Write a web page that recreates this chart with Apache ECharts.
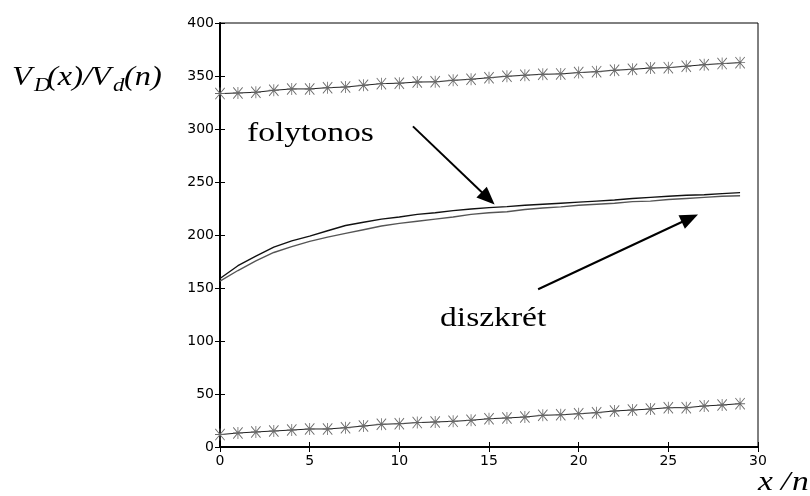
<!DOCTYPE html>
<html style="height: 100%">
<head>
	<meta charset="utf-8">
</head>
<body style="height: 100%; margin: 0; background-color: #fff;">
<div id="container" style="width: 810px; height: 496px"></div>
<script type="text/javascript" src="https://cdn.jsdelivr.net/npm/echarts@6/dist/echarts.min.js"></script>
<script type="text/javascript">
	// x / n values
	var xs = [0, 1, 2, 3, 4, 5, 6, 7, 8, 9, 10, 11, 12, 13, 14, 15, 16, 17, 18, 19, 20, 21, 22, 23, 24, 25, 26, 27, 28, 29];
	// upper bound (starred)
	var upper = [333.4, 334, 334.6, 336.5, 337.8, 337.8, 339, 339.6, 341.2, 342.8, 343.2, 344.3, 344.5, 345.9, 346.9, 348.4, 349.7, 350.7, 351.6, 352, 353.2, 354.1, 355.4, 356.3, 357.5, 357.9, 359.2, 360.7, 361.7, 362.6];
	// lower bound (starred)
	var lower = [11.7, 13.2, 14.2, 15.1, 16, 17, 17, 18.2, 19.8, 21.4, 22, 23, 23.6, 24.2, 25.2, 26.7, 27.4, 28.3, 29.9, 30.4, 31.4, 32.4, 34, 34.9, 35.8, 37.1, 37.1, 38.7, 39.6, 40.9];
	// folytonos
	var cont = [159, 171, 180, 188.5, 194.5, 199, 204, 209, 212, 215, 217, 219.5, 221, 223, 224.5, 225.8, 226.8, 228, 229, 230, 231, 232, 233, 234.5, 235.5, 236.5, 237.5, 238, 239, 240];
	// diszkrét
	var disc = [156.5, 166.5, 175.5, 183.5, 189, 194, 198, 201.5, 205, 208.5, 211, 213, 215, 217, 219.5, 221, 222, 224, 225.5, 226.5, 228, 229, 230, 231.5, 232, 233.5, 234.5, 235.5, 236.5, 237];
	// arrows [from, to] in data units
	var arrow1 = [[10.76, 302.5], [14.95, 234.6]];
	var arrow2 = [[17.74, 148.8], [26.2, 215.8]];

	function pairs(ys) {
		return xs.map(function (x, i) { return [x, ys[i]]; });
	}

	var star = 'path://M4.6 0h0.8v10h-0.8z M0 4.6h10v0.8h-10z M0.6 0L10 9.4L9.4 10L0 0.6z M9.4 0L10 0.6L0.6 10L0 9.4z';
	var font = 'DejaVu Sans';
	var serif = 'Liberation Serif';

	function tick() {
		return { show: true, inside: true, length: 5, lineStyle: { color: '#000' } };
	}

	function serifText(x, y, text, size, italic) {
		return {
			type: 'text', x: x, y: y, scaleX: 1.2,
			style: {
				text: text, fontFamily: serif, fontSize: size,
				fontStyle: italic ? 'italic' : 'normal', fill: '#000'
			}
		};
	}

	var myChart = echarts.init(document.getElementById('container'));
	var option = {
		animation: false,
		grid: {
			left: 220, right: 52, top: 23, bottom: 49,
			show: true, borderColor: '#000', borderWidth: 1
		},
		xAxis: [{
			type: 'value', min: 0, max: 30, interval: 5,
			axisLine: { lineStyle: { color: '#000', width: 2 } },
			axisTick: tick(),
			axisLabel: { color: '#000', fontSize: 14, fontFamily: font, margin: 7 },
			splitLine: { show: false }
		}, {
			type: 'value', min: 0, max: 30, interval: 5, position: 'top',
			axisLine: { lineStyle: { color: '#000' } },
			axisTick: tick(),
			axisLabel: { show: false },
			splitLine: { show: false }
		}],
		yAxis: [{
			type: 'value', min: 0, max: 400, interval: 50,
			axisLine: { show: true, lineStyle: { color: '#000', width: 2 } },
			axisTick: tick(),
			axisLabel: { color: '#000', fontSize: 14, fontFamily: font, margin: 6 },
			splitLine: { show: false }
		}, {
			type: 'value', min: 0, max: 400, interval: 50, position: 'right',
			axisLine: { show: true, lineStyle: { color: '#000' } },
			axisTick: tick(),
			axisLabel: { show: false },
			splitLine: { show: false }
		}],
		series: [{
			type: 'line', data: pairs(upper),
			symbol: star, symbolSize: [10, 12], showAllSymbol: true,
			lineStyle: { color: '#222', width: 1 },
			itemStyle: { color: '#6a6a6a' }
		}, {
			type: 'line', data: pairs(lower),
			symbol: star, symbolSize: [10, 12], showAllSymbol: true,
			lineStyle: { color: '#222', width: 1 },
			itemStyle: { color: '#6a6a6a' }
		}, {
			type: 'line', data: pairs(cont), symbol: 'none',
			lineStyle: { color: '#111', width: 1.4 },
			markLine: {
				silent: true,
				symbol: ['none', 'triangle'],
				symbolSize: [15, 18],
				label: { show: false },
				lineStyle: { color: '#000', width: 2, type: 'solid' },
				data: [
					[{ coord: arrow1[0] }, { coord: arrow1[1] }],
					[{ coord: arrow2[0] }, { coord: arrow2[1] }]
				]
			}
		}, {
			type: 'line', data: pairs(disc), symbol: 'none',
			lineStyle: { color: '#555', width: 1.4 }
		}],
		graphic: [
			serifText(12, 64, 'V', 27, true),
			serifText(34, 76, 'D', 19, true),
			serifText(47, 64, '(x)/', 27, true),
			serifText(91, 64, 'V', 27, true),
			serifText(113, 76, 'd', 19, true),
			serifText(124, 64, '(n)', 27, true),
			serifText(247, 120, 'folytonos', 28, false),
			serifText(440, 305, 'diszkrét', 28, false),
			serifText(758, 469, 'x', 28, true),
			serifText(781, 469, '/', 28, true),
			serifText(792, 469, 'n', 28, true)
		]
	};
	myChart.setOption(option);
</script>
</body>
</html>
